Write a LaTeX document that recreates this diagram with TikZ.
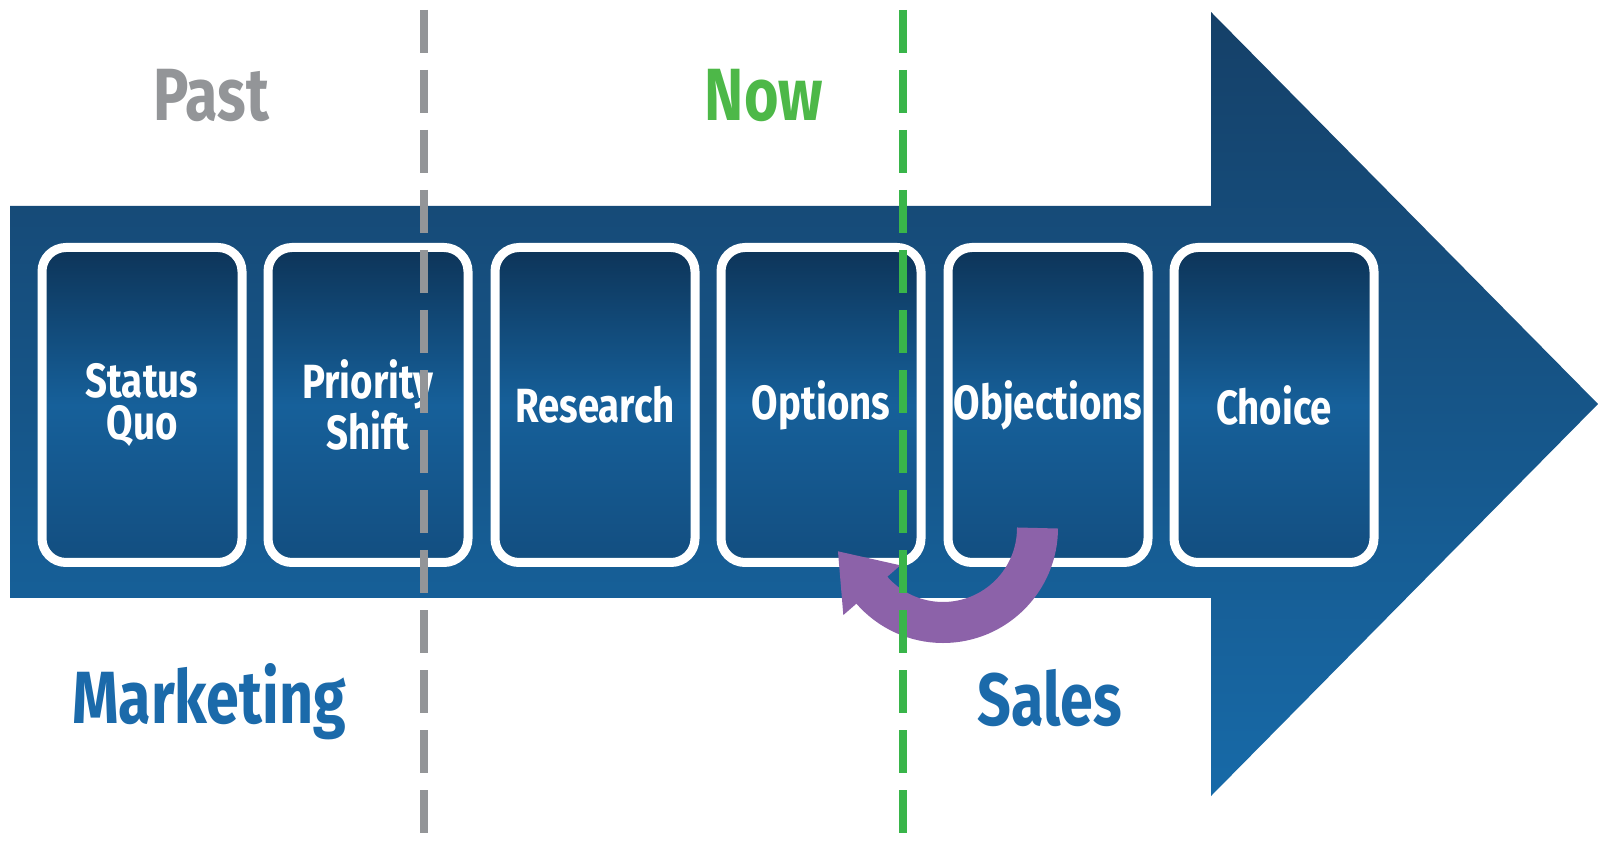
\documentclass[tikz,border=0pt]{standalone}
\usepackage{fontspec}
\setmainfont{Fira Sans}[FakeStretch=0.8]
\usetikzlibrary{arrows.meta}

\definecolor{arrowtop}{RGB}{21,64,104}
\definecolor{arrowbot}{RGB}{23,106,168}
\definecolor{cardtop}{RGB}{13,52,88}
\definecolor{cardmid}{RGB}{22,96,154}
\definecolor{cardbot}{RGB}{19,78,128}
\definecolor{pastgray}{RGB}{147,149,152}
\definecolor{nowgreen}{RGB}{77,184,72}
\definecolor{dashgreen}{RGB}{57,181,74}
\definecolor{teamblue}{RGB}{27,106,170}
\definecolor{loopviolet}{RGB}{140,98,169}

\begin{document}
\begin{tikzpicture}[x=1pt,y=1pt,>=Latex,
  card/.style={draw=white,line width=9pt,rounded corners=24pt,top color=cardtop,bottom color=cardbot,middle color=cardmid,
    minimum width=200pt,minimum height=315pt,inner sep=0pt,text=white,align=center,font=\fontsize{48}{42}\selectfont\bfseries},
  era/.style={anchor=base,font=\fontsize{74}{74}\selectfont\bfseries},
  split/.style={line width=8pt,dash pattern=on 43pt off 17pt,dash phase=50pt}]
  \useasboundingbox (0,0) rectangle (1598,844);
  % big process arrow
  \shade[top color=arrowtop,bottom color=arrowbot] (10,246) -- (1211,246) -- (1211,48) -- (1598,440)
    -- (1211,832) -- (1211,638) -- (10,638) -- cycle;
  \node[card] (sq) at (142,439) {Status\\Quo};
  \node[card] (ps) at (368,439) {Priority\\Shift};
  \node[card] (re) at (595,439) {Research};
  \node[card] (op) at (821,439) {Options};
  \node[card] (ob) at (1048,439) {Objections};
  \node[card] (ch) at (1274,439) {Choice};
  % loop back from objections to options
  \coordinate (back) at (1037.5,316);
  \draw[loopviolet,line width=41pt,-{Triangle[length=52pt,width=72pt]}] (back)
    arc[start angle=0,end angle=-139,radius=94.5] -- ++(-34,39);
  % past / now borders
  \coordinate (pt) at (424,844); \coordinate (pb) at (424,0);
  \coordinate (nt) at (903,844); \coordinate (nb) at (903,0);
  \draw[split,pastgray] (pt) -- (pb);
  \draw[split,dashgreen] (nt) -- (nb);
  \node[era,text=pastgray] (past) at (211,723) {Past};
  \node[era,text=nowgreen] (now) at (764,723) {Now};
  \node[era,text=teamblue] (mkt) at (209,121) {Marketing};
  \node[era,text=teamblue] (sales) at (1050,119) {Sales};
\end{tikzpicture}
\end{document}
